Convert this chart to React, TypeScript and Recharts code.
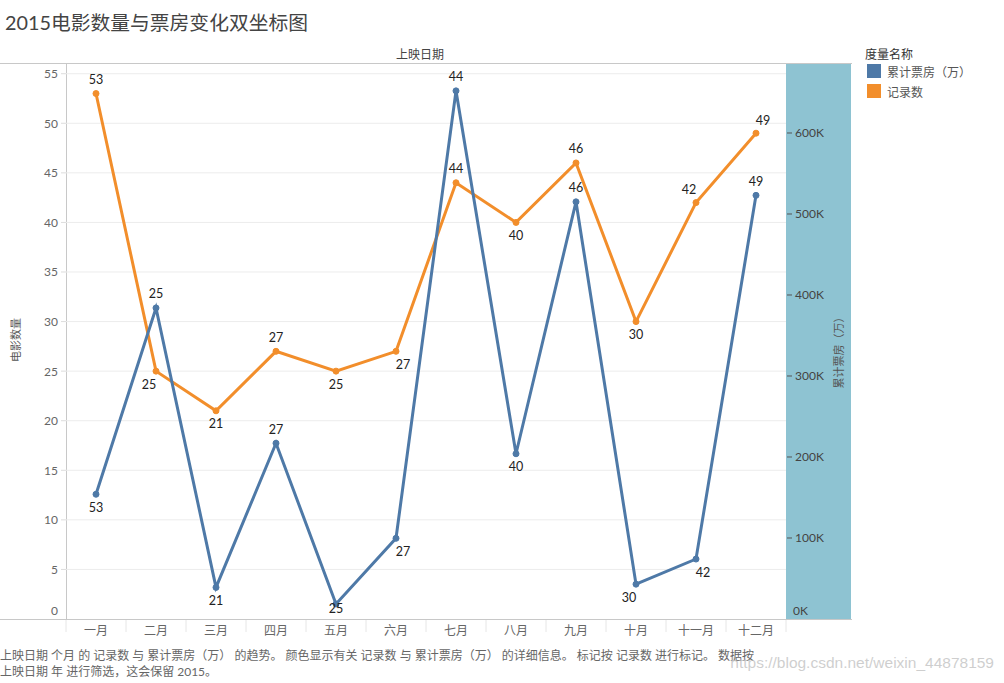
import { ComposedChart, Line, XAxis, YAxis, CartesianGrid, LabelList } from 'recharts';

document.body.style.margin = '0';

const months = ['一月', '二月', '三月', '四月', '五月', '六月', '七月', '八月', '九月', '十月', '十一月', '十二月'];
const movieCounts = [53, 25, 21, 27, 25, 27, 44, 40, 46, 30, 42, 49];
const boxOffice = [154000, 384000, 39000, 217000, 18500, 99600, 652000, 204000, 515000, 43000, 74000, 523000];
const countTicks = [0, 5, 10, 15, 20, 25, 30, 35, 40, 45, 50, 55];
const boxTicks = [0, 100000, 200000, 300000, 400000, 500000, 600000];

const data = months.map((m, i) => ({ month: m, count: movieCounts[i], box: boxOffice[i] }));

const BLUE = '#4E79A7';
const ORANGE = '#F28E2B';
const FONT = 'Lato, "Noto Sans CJK SC", sans-serif';

// where each value label sits relative to its point
const OFFSETS: Record<string, [number, number]> = {
  T: [0, -14], B: [0, 13], BL: [-7, 13], BR: [7, 13], TL: [-7, -13], TR: [7, -13], C: [0, 4],
};
const orangePlace = ['T', 'BL', 'B', 'T', 'B', 'BR', 'T', 'B', 'T', 'B', 'TL', 'TR'];
const bluePlace = ['B', 'T', 'B', 'T', 'C', 'BR', 'T', 'B', 'T', 'BL', 'BR', 'T'];

const makeLabel = (places: string[]) => (props: any) => {
  const { x, y, index } = props;
  const [dx, dy] = OFFSETS[places[index]] || [0, -12];
  return (
    <text x={x + dx} y={y + dy} textAnchor="middle" dominantBaseline="central" fontSize={12.5} fill="#222" fontFamily={FONT}>
      {movieCounts[index]}
    </text>
  );
};

const MonthTick = (props: any) => {
  const { x, y, payload, index } = props;
  return (
    <g>
      <line x1={x - 30} x2={x - 30} y1={620} y2={632} stroke="#e6e6e6" />
      {index === months.length - 1 && <line x1={x + 30} x2={x + 30} y1={620} y2={632} stroke="#e6e6e6" />}
      <text x={x} y={y + 8} textAnchor="middle" fontSize={12} fill="#666" fontFamily={FONT}>
        {payload.value}
      </text>
    </g>
  );
};

const LeftTick = (props: any) => {
  const { y, payload } = props;
  const ty = payload.value === 0 ? y - 9 : y;
  return (
    <g>
      {payload.value !== 0 && <line x1={61} x2={66} y1={y} y2={y} stroke="#ddd" />}
      <text x={58} y={ty} textAnchor="end" dominantBaseline="central" fontSize={12} fill="#666" fontFamily={FONT}>
        {payload.value}
      </text>
    </g>
  );
};

const RightTick = (props: any) => {
  const { y, payload } = props;
  const isZero = payload.value === 0;
  return (
    <g>
      {!isZero && <line x1={787} x2={792} y1={y} y2={y} stroke="#555" />}
      <text x={isZero ? 793 : 795} y={isZero ? y - 9 : y} dominantBaseline="central" fontSize={12} fill="#444" fontFamily={FONT}>
        {payload.value / 1000}K
      </text>
    </g>
  );
};

export default function App() {
  return (
    <div style={{ position: 'relative', width: 1004, height: 683, background: '#fff', fontFamily: FONT, overflow: 'hidden' }}>
      <div style={{ position: 'absolute', left: 5, top: 7, fontSize: 19.8, color: '#444' }}>2015电影数量与票房变化双坐标图</div>
      <div style={{ position: 'absolute', left: 0, width: 852, top: 45, textAlign: 'center', fontSize: 12, color: '#444' }}>
        <span style={{ position: 'relative', left: -6 }}>上映日期</span>
      </div>

      {/* shaded right axis band and frame lines */}
      <div style={{ position: 'absolute', left: 786, top: 63, width: 65, height: 556, background: '#8EC3D2' }} />
      <div style={{ position: 'absolute', left: 0, top: 63, width: 852, height: 1, background: '#c8c8c8' }} />
      <div style={{ position: 'absolute', left: 0, top: 619, width: 852, height: 1, background: '#c8c8c8' }} />
      <div style={{ position: 'absolute', left: 66, top: 63, width: 1, height: 556, background: '#c8c8c8' }} />

      <div style={{ position: 'absolute', left: 15, top: 340, transform: 'translate(-50%, -50%) rotate(-90deg)', fontSize: 11, color: '#555', whiteSpace: 'nowrap' }}>
        电影数量
      </div>
      <div style={{ position: 'absolute', left: 838, top: 350, transform: 'translate(-50%, -50%) rotate(-90deg)', fontSize: 11, color: '#555', whiteSpace: 'nowrap' }}>
        累计票房（万）
      </div>

      <div style={{ position: 'absolute', left: 0, top: 0 }}>
        <ComposedChart width={1004} height={683} data={data} margin={{ top: 63, right: 153, bottom: 34, left: 0 }}>
          <CartesianGrid yAxisId="left" vertical={false} horizontal stroke="#ececec" horizontalValues={countTicks.slice(1)} />
          <XAxis dataKey="month" height={30} padding={{ left: 30, right: 30 }} axisLine={false} tickLine={false} tick={<MonthTick />} interval={0} />
          <YAxis yAxisId="left" width={66} domain={[0, 56.08]} ticks={countTicks} allowDataOverflow axisLine={false} tickLine={false} tick={<LeftTick />} />
          <YAxis yAxisId="right" orientation="right" width={65} domain={[0, 686400]} ticks={boxTicks} allowDataOverflow axisLine={false} tickLine={false} tick={<RightTick />} />
          <Line yAxisId="left" dataKey="count" stroke={ORANGE} strokeWidth={3} dot={{ r: 3, fill: ORANGE, stroke: ORANGE, strokeWidth: 1 }} activeDot={false} isAnimationActive={false}>
            <LabelList dataKey="count" content={makeLabel(orangePlace)} />
          </Line>
          <Line yAxisId="right" dataKey="box" stroke={BLUE} strokeWidth={3} dot={{ r: 3, fill: BLUE, stroke: BLUE, strokeWidth: 1 }} activeDot={false} isAnimationActive={false}>
            <LabelList dataKey="box" content={makeLabel(bluePlace)} />
          </Line>
        </ComposedChart>
      </div>

      {/* legend */}
      <div style={{ position: 'absolute', left: 865, top: 45, fontSize: 12, color: '#333' }}>度量名称</div>
      <div style={{ position: 'absolute', left: 867, top: 64, width: 14, height: 14, background: BLUE }} />
      <div style={{ position: 'absolute', left: 887, top: 63, fontSize: 12, color: '#555' }}>累计票房（万）</div>
      <div style={{ position: 'absolute', left: 867, top: 84, width: 14, height: 14, background: ORANGE }} />
      <div style={{ position: 'absolute', left: 887, top: 83, fontSize: 12, color: '#555' }}>记录数</div>

      {/* caption */}
      <div style={{ position: 'absolute', left: 0, top: 648, fontSize: 12, color: '#666', lineHeight: '16px', whiteSpace: 'nowrap' }}>
        <div>上映日期 个月 的 记录数 与 累计票房（万） 的趋势。 颜色显示有关 记录数 与 累计票房（万） 的详细信息。 标记按 记录数 进行标记。 数据按</div>
        <div>上映日期 年 进行筛选，这会保留 2015。</div>
      </div>
      <div style={{ position: 'absolute', right: 10, top: 654, fontSize: 15.5, color: 'rgba(190,190,190,0.75)', fontFamily: '"Liberation Sans", Arial, sans-serif', whiteSpace: 'nowrap' }}>
        https://blog.csdn.net/weixin_44878159
      </div>
    </div>
  );
}
